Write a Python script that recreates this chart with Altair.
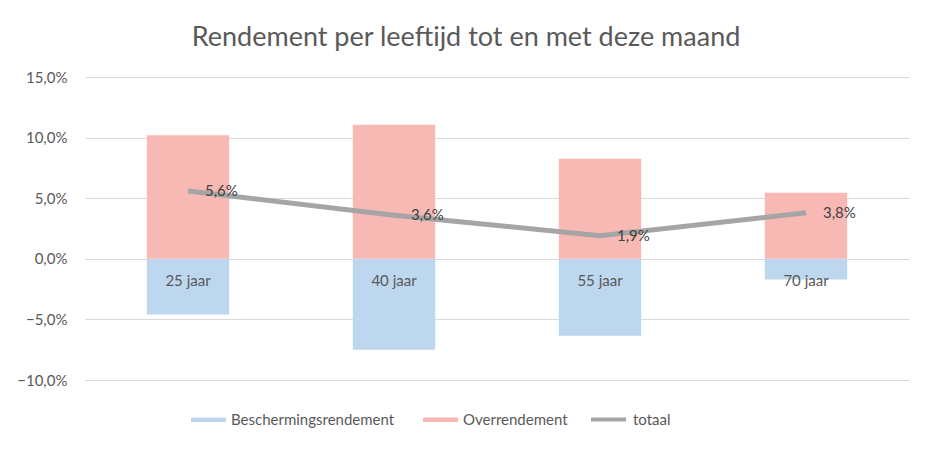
import altair as alt
import pandas as pd

leeftijd = ["25 jaar", "40 jaar", "55 jaar", "70 jaar"]
bescherming = [-4.6, -7.5, -6.35, -1.7]
overrendement = [10.2, 11.05, 8.25, 5.45]
totaal = [5.6, 3.6, 1.9, 3.8]
y_ticks = [-10, -5, 0, 5, 10, 15]

series_names = ["Beschermingsrendement", "Overrendement"]
series_colors = ["#BDD7EE", "#F8B9B5"]
line_color = "#A5A5A5"
FONT = "Lato"

bars_df = pd.DataFrame(
    {
        "leeftijd": leeftijd * 2,
        "serie": [series_names[0]] * 4 + [series_names[1]] * 4,
        "waarde": bescherming + overrendement,
    }
)
tot_df = pd.DataFrame({"leeftijd": leeftijd, "totaal": totaal, "serie": ["totaal"] * 4})

x_enc = alt.X(
    "leeftijd:N",
    sort=leeftijd,
    axis=None,
    scale=alt.Scale(paddingInner=0.6, paddingOuter=0.3),
)
y_scale = alt.Scale(domain=[-10, 15], nice=False)

bars = (
    alt.Chart(bars_df)
    .mark_bar()
    .encode(
        x=x_enc,
        y=alt.Y(
            "waarde:Q",
            scale=y_scale,
            title=None,
            axis=alt.Axis(
                values=y_ticks,
                labelExpr="replace(format(datum.value, '.1f'), '.', ',') + '%'",
                domain=False,
                ticks=False,
                labelPadding=18,
                gridColor="#D9D9D9",
                gridWidth=1,
                labelFont=FONT,
                labelFontSize=15,
                labelColor="#595959",
            ),
        ),
        y2=alt.datum(0),
        color=alt.Color(
            "serie:N",
            scale=alt.Scale(domain=series_names, range=series_colors),
            legend=alt.Legend(
                title=None,
                orient="none",
                legendX=106,
                legendY=325,
                direction="horizontal",
                columns=2,
                symbolType="M-1,-0.13H1V0.13H-1Z",
                symbolSize=1225,
                symbolStrokeWidth=0,
                labelOffset=5,
                labelLimit=0,
                columnPadding=28,
                labelFont=FONT,
                labelFontSize=15,
                labelColor="#595959",
            ),
        ),
    )
)

cat_labels = (
    alt.Chart(tot_df)
    .mark_text(font=FONT, fontSize=15, color="#595959", baseline="middle", dy=22)
    .encode(x=x_enc, y=alt.datum(0), text="leeftijd:N")
)

line = (
    alt.Chart(tot_df)
    .mark_line(strokeWidth=5)
    .encode(
        x=x_enc,
        y=alt.Y("totaal:Q", scale=y_scale),
        stroke=alt.Stroke(
            "serie:N",
            scale=alt.Scale(domain=["totaal"], range=[line_color]),
            legend=alt.Legend(
                title=None,
                orient="none",
                legendX=504,
                legendY=323,
                symbolType="stroke",
                symbolSize=1225,
                symbolStrokeWidth=4,
                labelOffset=5,
                labelLimit=0,
                labelFont=FONT,
                labelFontSize=15,
                labelColor="#595959",
            ),
        ),
    )
)

line_labels = (
    alt.Chart(tot_df)
    .transform_calculate(lbl="replace(format(datum.totaal, '.1f'), '.', ',') + '%'")
    .mark_text(font=FONT, fontSize=15, color="#404040", align="left", baseline="middle", dx=17)
    .encode(x=x_enc, y=alt.Y("totaal:Q", scale=y_scale), text="lbl:N")
)

chart = (
    alt.layer(bars, cat_labels, line, line_labels)
    .resolve_scale(color="independent")
    .properties(
        width=824,
        height=303,
        autosize=alt.AutoSizeParams(type="none"),
        padding={"left": 77, "top": 69, "right": 14, "bottom": 64},
        title=alt.Title(
            "Rendement per leeftijd tot en met deze maand",
            font=FONT,
            fontSize=27,
            fontWeight="normal",
            color="#595959",
            offset=18,
            dx=-31,
        ),
        background="white",
    )
    .configure_view(stroke=None)
)

chart.save("out.html", embed_options={"renderer": "svg", "actions": False})
